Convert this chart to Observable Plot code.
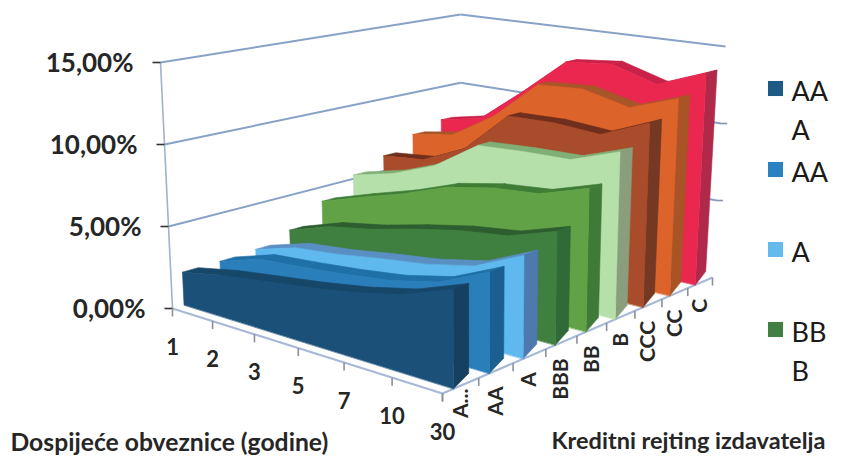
<!DOCTYPE html>
<html lang="hr">
<head>
<meta charset="utf-8">
<style>html,body{margin:0;padding:0;background:#fff}svg{display:block}</style>
<script src="https://cdn.jsdelivr.net/npm/d3@7"></script>
<script src="https://cdn.jsdelivr.net/npm/@observablehq/plot@0.6"></script>
</head>
<body>
<div id="chart"></div>
<script>
// ---- data ----
const maturities = ["1","2","3","5","7","10","30"];
const ratings = ["A...","AA","A","BBB","BB","B","CCC","CC","C"];
const AAA = [2.0,2.55,2.95,3.35,3.85,4.55,5.7];
const AA  = [2.0,2.85,3.1,3.4,3.8,4.5,5.9];
const A   = [2.1,2.9,3.2,3.65,4.05,4.7,6.1];
const BBB = [2.7,3.6,4.1,4.8,5.4,5.8,6.8];
const BB  = [4.0,4.9,5.75,6.8,7.4,7.7,8.7];
const B   = [5.2,5.9,7.0,8.9,9.1,9.2,10.3];
const CCC = [6.0,6.3,7.6,10.3,10.4,10.2,11.5];
const CC  = [7.0,7.5,9.3,11.9,12.1,11.4,12.5];
const C   = [7.6,8.2,10.5,13.0,13.3,12.4,13.6];
const seriesValues = [AAA,AA,A,BBB,BB,B,CCC,CC,C];
const valueTicks = [0,5,10,15];
const valueLabels = ["0,00%","5,00%","10,00%","15,00%"];
const frontColors = ["#1b5079","#2a7fbb","#5fb9ee","#3f7f3f","#62a246","#b6e0aa","#a94c2c","#dc6329","#e9274f"];
const topColors   = ["#174768","#2070a8","#5a8fc4","#2c5e30","#3f7d37","#7faf75","#6f2f1c","#a8552a","#c82248"];
const sideColors  = ["#16405f","#1a5f8f","#4d79ae","#2f6a37","#3f7a38","#8a9e7c","#743823","#a95427","#b0284a"];
const legendLabels = ["AA\nA","AA","A","BB\nB"];
const legendColors = ["#1d5a85","#2a83c0","#62bbec","#417f43"];
const legendRowY = [88,169,249,329];

// ---- the chart's 3-D box as Excel drew it ----
const corner = {L:[172,308],F:[442,393],R:[712,277],B:[460,219]};
const rise = {L:16.4,F:17.5,R:15.4,B:13.67};
const lean = {L:-0.8,F:-0.1,R:0.87,B:0};
const dx3=corner.L[0]-corner.F[0]+corner.R[0]-corner.B[0], dy3=corner.L[1]-corner.F[1]+corner.R[1]-corner.B[1];
const dx1=corner.F[0]-corner.R[0], dx2=corner.B[0]-corner.R[0], dy1=corner.F[1]-corner.R[1], dy2=corner.B[1]-corner.R[1];
const den=dx1*dy2-dx2*dy1, g=(dx3*dy2-dx2*dy3)/den, h=(dx1*dy3-dx3*dy1)/den;
const a=corner.F[0]-corner.L[0]+g*corner.F[0], b=corner.B[0]-corner.L[0]+h*corner.B[0];
const d=corner.F[1]-corner.L[1]+g*corner.F[1], e=corner.B[1]-corner.L[1]+h*corner.B[1];
function project(u,v,z=0){
  const w=g*u+h*v+1;
  const fx=(a*u+b*v+corner.L[0])/w, fy=(d*u+e*v+corner.L[1])/w;
  const mix=(o)=>o.L*(1-u)*(1-v)+o.F*u*(1-v)+o.R*u*v+o.B*(1-u)*v;
  return [fx+mix(lean)*z, fy-mix(rise)*z];
}
const uAt=i=>i/(maturities.length-1);
const WALL_FRONT=0.30, WALL_BACK=0.72, SIDE_BASE_LIFT=9;

// ---- polygons from the data, painted back to front ----
const polys=[];
function poly(id,color,pts){pts.forEach(p=>polys.push({id,color,x:p[0],y:p[1]}));}
d3.range(ratings.length-1,-1,-1).forEach(s=>{
  const vals=seriesValues[s], vf=(s+WALL_FRONT)/ratings.length, vb=(s+WALL_BACK)/ratings.length;
  vals.slice(0,-1).forEach((val,i)=>{
    poly(`top-${s}-${i}`,topColors[s],[
      project(uAt(i),vf,val),project(uAt(i+1),vf,vals[i+1]),
      project(uAt(i+1),vb,vals[i+1]),project(uAt(i),vb,val)]);
  });
  const last=vals[vals.length-1];
  const sideBase=project(1,vb,0);
  poly(`side-${s}`,sideColors[s],[project(1,vf,0),[sideBase[0],sideBase[1]-SIDE_BASE_LIFT],project(1,vb,last),project(1,vf,last)]);
  poly(`front-${s}`,frontColors[s],[
    project(0,vf,0),...vals.map((val,i)=>project(uAt(i),vf,val)),project(1,vf,0)]);
});

// ---- gridlines, axes ----
const lineOf=(p,q)=>({x1:p[0],y1:p[1],x2:q[0],y2:q[1]});
const grid=valueTicks.slice(1).flatMap(z=>[
  lineOf(project(0,0,z),project(0,1,z)),
  lineOf(project(0,1,z),project(1,1,z))]);
const walls=[lineOf(project(0,0,0),project(0,0,15))];
const floorEdges=[lineOf(project(0,0),project(1,0)),lineOf(project(1,0),project(1,1))];
const valueTickLines=valueTicks.map(z=>{const p=project(0,0,z);return lineOf([p[0]-8,p[1]],p);});
const rightTickLines=valueTicks.slice(1,3).map(z=>{const p=project(1,1,z);return lineOf(p,[p[0]+6,p[1]]);});
const matTickLines=maturities.map((m,i)=>{const p=project(uAt(i),0);return lineOf(p,[p[0],p[1]+8]);});
const ratTickLines=d3.range(ratings.length+1).map(i=>{const p=project(1,i/ratings.length);return lineOf(p,[p[0],p[1]+8]);});
const valueText=valueTicks.map((z,i)=>{const p=project(0,0,z);return {x:p[0]-27,y:p[1]+1,t:valueLabels[i]};});
const matText=maturities.map((m,i)=>{const p=project(uAt(i),0);return {x:p[0],y:p[1]+39,t:m};});
const ratText=ratings.map((r,i)=>{const p=project(1,(i+0.5)/ratings.length);return {x:p[0],y:Math.min(p[1]+16,388),t:r};});
const legendRows=legendLabels.map((t,i)=>({t,c:legendColors[i],y:legendRowY[i]}));

const FONT="Lato, Carlito, sans-serif", INK="#262626";
const linkOpts=(stroke,strokeWidth)=>({x1:"x1",y1:"y1",x2:"x2",y2:"y2",stroke,strokeWidth});

const chart=Plot.plot({
  width:845,height:457,margin:0,
  x:{domain:[0,845],range:[0,845],axis:null},
  y:{domain:[0,457],range:[0,457],axis:null},
  color:{type:"identity"},
  style:{background:"#fff"},
  marks:[
    Plot.link(grid,linkOpts("#87a2c6",2)),
    Plot.link(walls,linkOpts("#9fb2cf",1.6)),
    Plot.link(rightTickLines,linkOpts("#7f93ad",1.6)),
    Plot.link(floorEdges,linkOpts("#a7b9d6",2.2)),
    Plot.link(valueTickLines,linkOpts("#333",1.6)),
    Plot.link(matTickLines,linkOpts("#8a8f99",1.6)),
    Plot.link(ratTickLines,linkOpts("#8a8f99",1.6)),
    Plot.line(polys,{x:"x",y:"y",z:"id",fill:"color",stroke:"color",strokeWidth:0.6,curve:"linear-closed"}),
    Plot.text(valueText,{x:"x",y:"y",text:"t",textAnchor:"end",fontSize:26,fontWeight:700,fontFamily:FONT,fill:INK}),
    Plot.text(matText,{x:"x",y:"y",text:"t",fontSize:22,fontWeight:700,fontFamily:FONT,fill:INK}),
    Plot.text(ratText,{x:"x",y:"y",text:"t",rotate:-90,textAnchor:"end",fontSize:21,fontWeight:700,fontFamily:FONT,fill:INK}),
    Plot.text(["Dospijeće obveznice (godine)"],{x:10,y:443,textAnchor:"start",fontSize:24.7,fontWeight:700,fontFamily:FONT,fill:INK}),
    Plot.text(["Kreditni rejting izdavatelja"],{x:551,y:441,textAnchor:"start",fontSize:23.5,fontWeight:700,fontFamily:FONT,fill:INK}),
    Plot.dot(legendRows,{x:775,y:"y",r:8.5,symbol:"square",fill:"c"}),
    Plot.text(legendRows,{x:791,y:"y",text:"t",lineAnchor:"top",dy:-15,lineHeight:1.45,textAnchor:"start",fontSize:27,fontFamily:FONT,fill:"#1a1a1a"})
  ]
});
document.getElementById("chart").appendChild(chart);
</script>
</body>
</html>
